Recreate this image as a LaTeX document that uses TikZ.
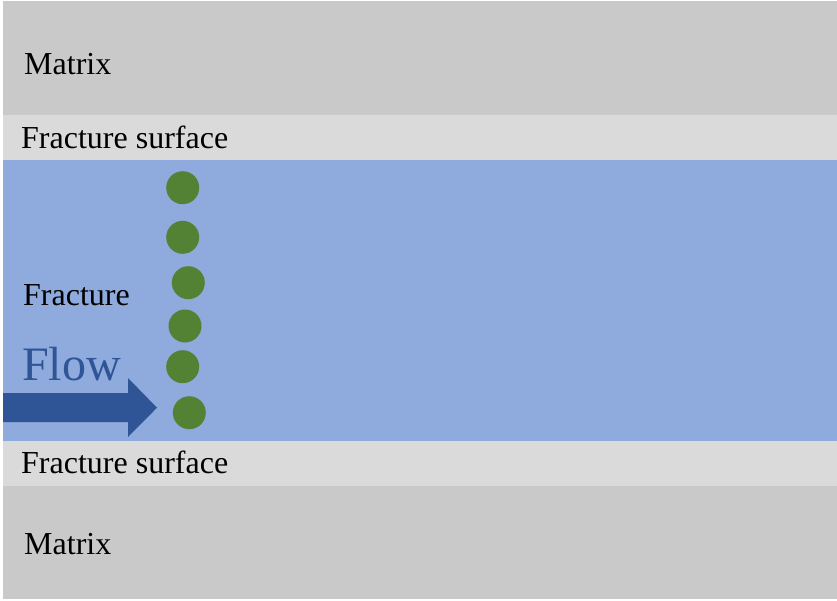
\documentclass[tikz,border=0pt]{standalone}
\usepackage{fontspec}
\setmainfont{Liberation Serif}
\usetikzlibrary{arrows.meta}
\definecolor{matrixgray}{HTML}{C9C9C9}
\definecolor{surfgray}{HTML}{DADADA}
\definecolor{fracblue}{HTML}{8FAADC}
\definecolor{particle}{HTML}{548235}
\definecolor{flowblue}{HTML}{2F5597}
\begin{document}
\begin{tikzpicture}[x=1pt,y=-1pt,
  lbl/.style={anchor=base west,inner sep=0pt,font=\fontsize{32}{36}\selectfont},
  dot/.style={circle,fill=particle,minimum size=33pt,inner sep=0pt}]
  \fill[white] (0,0) rectangle (837,600);
  \useasboundingbox (0,0) rectangle (837,600);
  % layers
  \fill[matrixgray] (3,1) rectangle (837,115);
  \fill[surfgray]   (3,115) rectangle (837,160.3);
  \fill[fracblue]   (3,160.3) rectangle (837,440.7);
  \fill[surfgray]   (3,440.7) rectangle (837,485.7);
  \fill[matrixgray] (3,485.7) rectangle (837,599);
  % labels
  \node[lbl] (m1) at (24,74.5) {Matrix};
  \node[lbl] (s1) at (21,148.3) {Fracture surface};
  \node[lbl] (fr) at (23,305) {Fracture};
  \node[lbl] (s2) at (21,473.3) {Fracture surface};
  \node[lbl] (m2) at (24,554.5) {Matrix};
  \node[anchor=base west,inner sep=0pt,text=flowblue,font=\fontsize{48}{54}\selectfont] (fl) at (22,380) {Flow};
  % flow arrow
  \fill[flowblue] (3,393) -- (128,393) -- (128,378) -- (157,407.7) -- (128,437) -- (128,422) -- (3,422) -- cycle;
  % particles
  \node[dot] (p1) at (182.7,187.7) {};
  \node[dot] (p2) at (182.7,237.3) {};
  \node[dot] (p3) at (188.3,282.7) {};
  \node[dot] (p4) at (185,326) {};
  \node[dot] (p5) at (182.7,366.7) {};
  \node[dot] (p6) at (189.3,412.7) {};
\end{tikzpicture}
\end{document}
